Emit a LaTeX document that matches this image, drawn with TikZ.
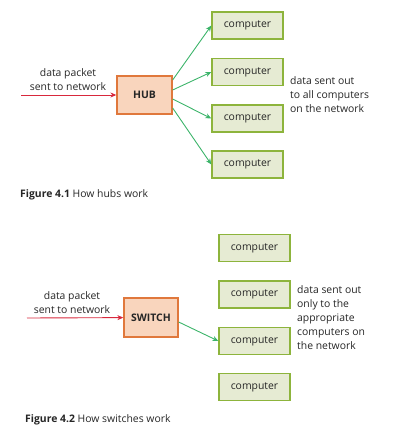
\documentclass[tikz,border=0pt]{standalone}
\usepackage{fontspec}
\setmainfont{Open Sans}
\usetikzlibrary{arrows.meta}
\definecolor{pcbox}{HTML}{E6EBD3}
\definecolor{pcline}{HTML}{8DB43C}
\definecolor{netbox}{HTML}{F9D5BD}
\definecolor{netline}{HTML}{E0783C}
\definecolor{inred}{HTML}{D8283C}
\definecolor{outgreen}{HTML}{3CB46A}
\definecolor{txt}{HTML}{262626}
\tikzset{
  pc/.style={draw=pcline,fill=pcbox,line width=1.3pt,minimum width=71pt,minimum height=27pt,inner sep=0pt,font=\fontsize{10.4}{12}\selectfont,text=txt},
  netdev/.style={draw=netline,fill=netbox,line width=1.3pt,inner sep=0pt,font=\fontsize{10.4}{12}\selectfont\bfseries,text=txt},
  note/.style={align=left,font=\fontsize{10.4}{14}\selectfont,text=txt,inner sep=0pt},
  inarrow/.style={draw=inred,line width=0.9pt,-{Stealth[length=6pt,width=5pt]}},
  outarrow/.style={draw=outgreen,line width=0.9pt,-{Stealth[length=6pt,width=5pt]}}
}
\begin{document}
\begin{tikzpicture}[x=1pt,y=-1pt]
			\useasboundingbox (0,0) rectangle (404,439);
			% how hubs work
			\node[netdev,minimum width=55pt,minimum height=38pt] (hub) at (144.5,95) {HUB};
			\node[pc] (h1) at (247.5,25.5)  {computer};
			\node[pc] (h2) at (247.5,72)    {computer};
			\node[pc] (h3) at (247.5,118.5) {computer};
			\node[pc] (h4) at (247.5,164.5) {computer};
			\coordinate (hin) at (21,95);
			\node[note,align=center] (hlabel) at (68,80) {data packet\\sent to network};
			\node[note,anchor=west] (hnote) at (290,95) {data sent out\\to all computers\\on the network};
			\node[note,anchor=west] (hcap) at (20,195) {\textbf{Figure 4.1} How hubs work};
			%
			\draw[inarrow] (hin) -- (hub);
			\def\list {h1/15, h2/5, h3/-4, h4/-13}  % list elements
			\foreach \v\shift in \list
			{	\draw[outarrow] ([yshift=\shift pt]hub.east) -- (\v.west);
			}
			% how switches work
			\node[netdev,minimum width=54pt,minimum height=39pt] (switch) at (151,317.5) {SWITCH};
			\node[pc] (s1) at (254.5,248)   {computer};
			\node[pc] (s2) at (254.5,294.5) {computer};
			\node[pc] (s3) at (254.5,341)   {computer};
			\node[pc] (s4) at (254.5,387)   {computer};
			\coordinate (sin) at (27,318);
			\node[note,align=center] (slabel) at (72,303) {data packet\\sent to network};
			\node[note,anchor=west] (snote) at (297,318) {data sent out\\only to the\\appropriate\\computers on\\the network};
			\node[note,anchor=west] (scap) at (25,420) {\textbf{Figure 4.2} How switches work};
			%
			\draw[inarrow] (sin) -- (switch);
			\draw[outarrow] ([yshift=-4.5pt]switch.east) -- (s3.west);
		\end{tikzpicture}
\end{document}
